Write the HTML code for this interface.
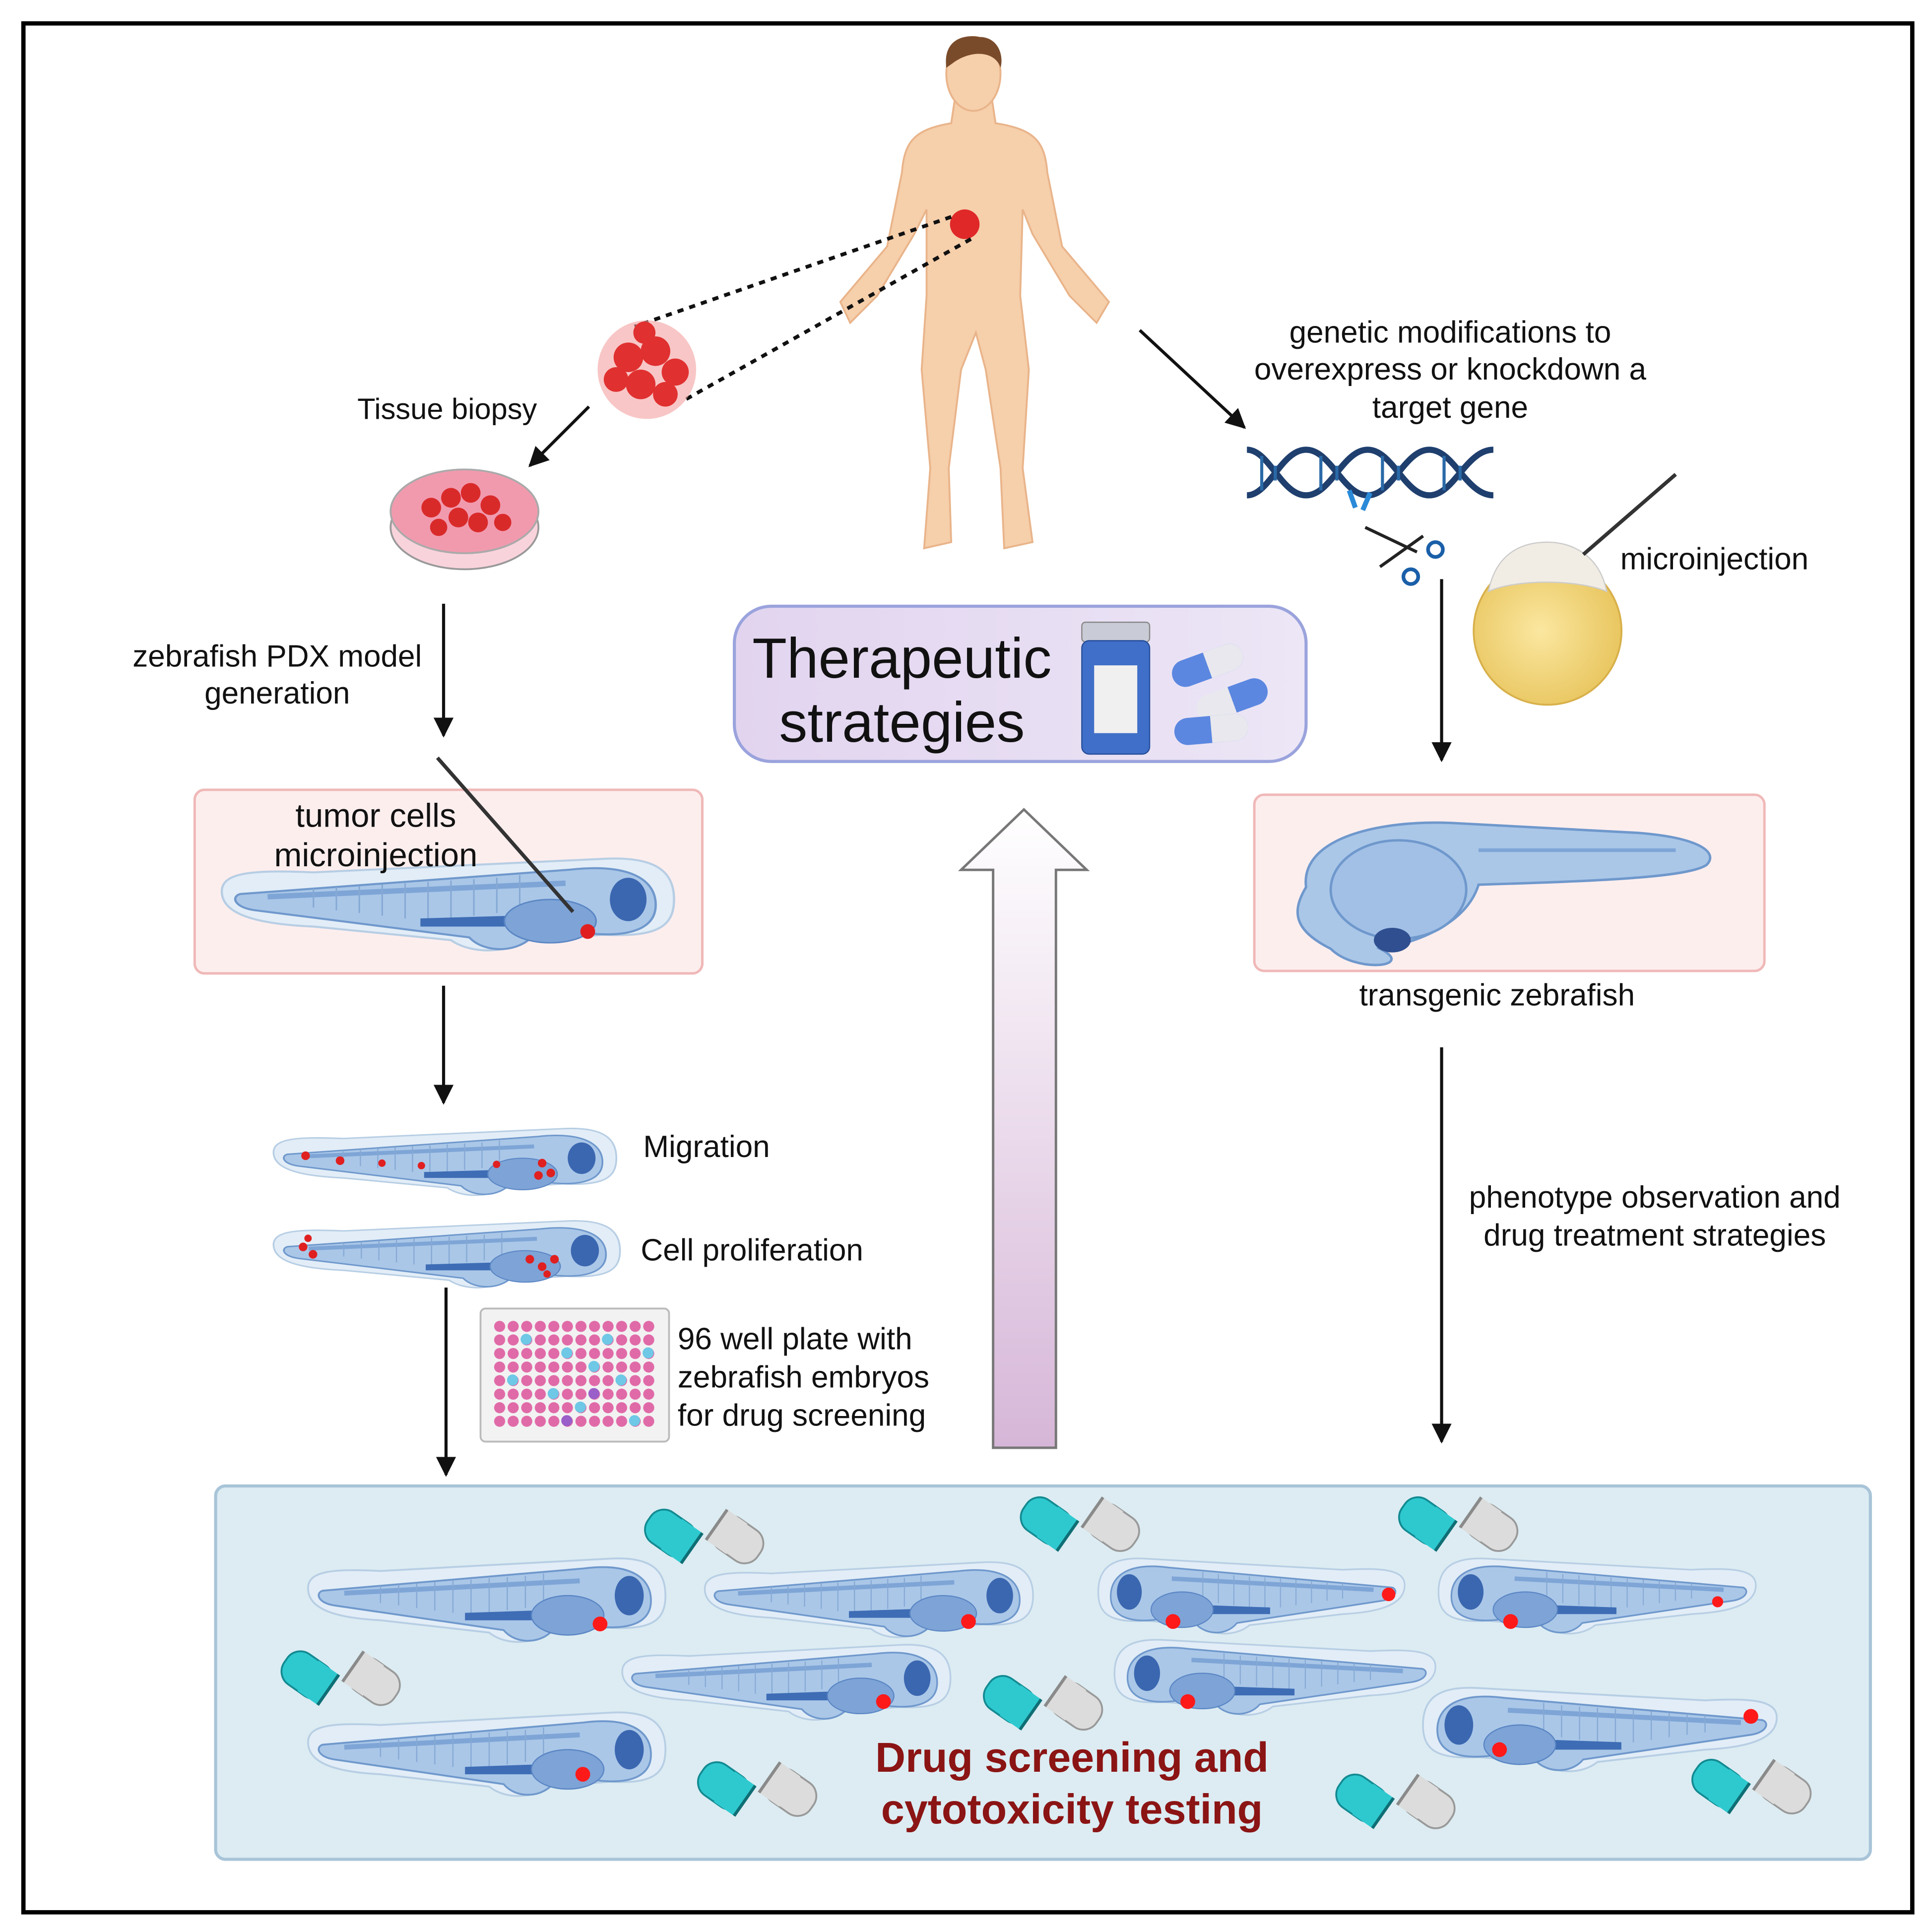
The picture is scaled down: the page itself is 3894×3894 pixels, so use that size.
<!DOCTYPE html>
<html><head><meta charset="utf-8"><style>
html,body{margin:0;padding:0;background:#fff}
svg{display:block}
text{font-family:"Liberation Sans","DejaVu Sans",sans-serif}
</style></head><body>
<svg width="3894" height="3894" viewBox="0 0 1568 1568" xmlns="http://www.w3.org/2000/svg">
<defs>
<marker id="ah" viewBox="0 0 10 10" refX="9" refY="5" markerWidth="6.5" markerHeight="6.5" orient="auto"><path d="M0,0 L10,5 L0,10Z" fill="#111"/></marker>
<linearGradient id="upg" x1="0" y1="0" x2="0" y2="1"><stop offset="0" stop-color="#ffffff"/><stop offset="1" stop-color="#d6b6d8"/></linearGradient>
<linearGradient id="thg" x1="0" y1="0" x2="1" y2="0"><stop offset="0" stop-color="#e2d4ef"/><stop offset="1" stop-color="#ece6f6"/></linearGradient>
<radialGradient id="egg" cx="0.45" cy="0.5" r="0.6"><stop offset="0" stop-color="#fbe7a0"/><stop offset="1" stop-color="#e7c35a"/></radialGradient>
<g id="fish">
<path d="M0,-6 C0,-20 20,-22 60,-20 L250,-30 C285,-32 296,-20 296,0 C296,20 285,28 250,26 L200,30 C180,42 160,38 150,30 L60,20 C20,18 0,10 0,-6Z" fill="#e2edf7" stroke="#b7cee4" stroke-width="1.5"/>
<path d="M12,-4 L228,-22 C268,-27 284,-14 284,4 C284,22 266,28 240,25 L205,25 C195,40 172,40 162,28 L22,8 C8,6 6,-2 12,-4Z" fill="#aac7e8" stroke="#6f98cc" stroke-width="1.5"/>
<path d="M30,-2 L225,-12" stroke="#7ea5d6" stroke-width="4"/>
<g stroke="#86a9d4" stroke-width="1">
<path d="M60,-8 L60,6 M75,-9 L75,8 M90,-10 L90,10 M105,-11 L105,12 M120,-12 L120,14 M135,-13 L135,16 M150,-14 L150,18 M165,-15 L165,12 M180,-16 L180,10 M195,-18 L195,8"/>
</g>
<path d="M130,14 L190,12 L190,20 L130,20Z" fill="#3e6db5"/>
<ellipse cx="215" cy="16" rx="30" ry="16" fill="#7ea3d6" stroke="#5a86c4"/>
<ellipse cx="266" cy="0" rx="12" ry="16" fill="#3b67b0"/>
</g>
<g id="cap">
<g transform="translate(-25,0) rotate(35)">
<rect x="-22" y="-15" width="42" height="30" rx="13" fill="#2ec9cf" stroke="#138a92" stroke-width="1.5"/>
<rect x="0" y="-15" width="20" height="30" fill="#2ec9cf"/>
<path d="M20,-15 L20,15" stroke="#0f6e75" stroke-width="2.5"/>
</g>
<g transform="translate(28,4) rotate(35)">
<rect x="-20" y="-15" width="42" height="30" rx="13" fill="#dcdcdc" stroke="#999" stroke-width="1.5"/>
<rect x="-20" y="-15" width="20" height="30" fill="#dcdcdc"/>
<path d="M-20,-15 L-20,15" stroke="#8a8a8a" stroke-width="2.5"/>
</g>
</g>
</defs>

<rect x="19" y="19" width="1533" height="1533" fill="#fff" stroke="#000" stroke-width="3.5"/>

<!-- human -->
<g fill="#f6cfab" stroke="#e9b48a" stroke-width="1.5">
<path d="M775,80 L805,80 L808,100 C840,105 848,115 850,140 L862,200 L900,245 L890,262 L868,240 L838,190 L830,170 L828,240 L835,300 L830,380 L838,440 L815,445 L812,380 L800,300 L792,270 L780,300 L770,380 L772,440 L750,445 L755,380 L748,300 L752,240 L752,170 L742,190 L712,240 L690,262 L682,245 L720,200 L732,140 C734,115 742,105 772,100Z"/>
<ellipse cx="790" cy="60" rx="22" ry="30"/>
</g>
<path d="M768,55 C765,30 785,28 795,30 C810,30 815,45 812,55 C808,42 790,40 775,50Z" fill="#7a4b2a"/>
<circle cx="783" cy="182" r="12" fill="#e02828"/>
<path d="M772,176 L515,265" stroke="#111" stroke-width="3" stroke-dasharray="5,5"/>
<path d="M788,194 L555,325" stroke="#111" stroke-width="3" stroke-dasharray="5,5"/>
<circle cx="525" cy="300" r="40" fill="#f3a0a0" opacity="0.6"/>
<g fill="#e03030"><circle cx="510" cy="290" r="12"/><circle cx="532" cy="285" r="12"/><circle cx="548" cy="302" r="11"/><circle cx="520" cy="312" r="12"/><circle cx="540" cy="320" r="10"/><circle cx="500" cy="308" r="10"/><circle cx="523" cy="270" r="9"/></g>

<text x="290" y="340" font-size="24" fill="#111">Tissue biopsy</text>
<path d="M478,330 L430,378" stroke="#111" stroke-width="2.5" marker-end="url(#ah)"/>

<ellipse cx="377" cy="428" rx="60" ry="34" fill="#f9d3dc" stroke="#999" stroke-width="1.5"/>
<ellipse cx="377" cy="415" rx="60" ry="34" fill="#f19aae" stroke="#aaa" stroke-width="1.5"/>
<g fill="#d92a2a"><circle cx="350" cy="412" r="8"/><circle cx="366" cy="404" r="8"/><circle cx="382" cy="400" r="8"/><circle cx="398" cy="410" r="8"/><circle cx="372" cy="420" r="8"/><circle cx="388" cy="424" r="8"/><circle cx="356" cy="428" r="7"/><circle cx="408" cy="424" r="7"/></g>

<path d="M360,490 L360,597" stroke="#111" stroke-width="2.5" marker-end="url(#ah)"/>
<text x="225" y="541" font-size="25" text-anchor="middle" fill="#111">zebrafish PDX model</text>
<text x="225" y="571" font-size="25" text-anchor="middle" fill="#111">generation</text>

<rect x="158" y="641" width="412" height="149" rx="8" fill="#fdeeee" stroke="#f0b8b8" stroke-width="2"/>
<use href="#fish" transform="translate(180,730) scale(1.24,1.1)"/>
<circle cx="477" cy="756" r="6" fill="#e02020"/>
<path d="M355,615 L465,740" stroke="#333" stroke-width="3"/>
<text x="305" y="671" font-size="27" text-anchor="middle" fill="#111">tumor cells</text>
<text x="305" y="703" font-size="27" text-anchor="middle" fill="#111">microinjection</text>

<path d="M360,800 L360,895" stroke="#111" stroke-width="2.5" marker-end="url(#ah)"/>
<use href="#fish" transform="translate(222,940) scale(0.94,0.8)"/>
<use href="#fish" transform="translate(222,1015) scale(0.95,0.8)"/>
<g fill="#e02020"><circle cx="248" cy="938" r="3.5"/><circle cx="276" cy="942" r="3.5"/><circle cx="310" cy="944" r="3"/><circle cx="342" cy="946" r="3"/><circle cx="403" cy="945" r="3"/><circle cx="440" cy="944" r="3.5"/><circle cx="447" cy="952" r="3.5"/><circle cx="437" cy="954" r="3.5"/>
<circle cx="246" cy="1012" r="3.5"/><circle cx="254" cy="1018" r="3.5"/><circle cx="250" cy="1005" r="3"/><circle cx="430" cy="1022" r="3.5"/><circle cx="440" cy="1028" r="3.5"/><circle cx="450" cy="1022" r="3.5"/><circle cx="444" cy="1034" r="3"/></g>
<text x="522" y="939" font-size="25" fill="#111">Migration</text>
<text x="520" y="1023" font-size="25" fill="#111">Cell proliferation</text>

<path d="M362,1045 L362,1197" stroke="#111" stroke-width="2.5" marker-end="url(#ah)"/>
<rect x="390" y="1062" width="153" height="108" rx="4" fill="#f2f2f2" stroke="#bbb" stroke-width="1.5"/>
<pattern id="wp" x="400" y="1071" width="11" height="11" patternUnits="userSpaceOnUse"><circle cx="5.5" cy="5.5" r="4.5" fill="#e06aa8"/></pattern>
<rect x="400" y="1071" width="132" height="88" fill="url(#wp)"/>
<g fill="#6ec8e6"><circle cx="427" cy="1087" r="4.5"/><circle cx="460" cy="1098" r="4.5"/><circle cx="482" cy="1109" r="4.5"/><circle cx="493" cy="1087" r="4.5"/><circle cx="416" cy="1120" r="4.5"/><circle cx="449" cy="1131" r="4.5"/><circle cx="504" cy="1120" r="4.5"/><circle cx="526" cy="1098" r="4.5"/><circle cx="471" cy="1142" r="4.5"/><circle cx="515" cy="1153" r="4.5"/></g>
<g fill="#9a5fc8"><circle cx="460" cy="1153" r="4.5"/><circle cx="482" cy="1131" r="4.5"/></g>
<text x="550" y="1095" font-size="25" fill="#111">96 well plate with</text>
<text x="550" y="1126" font-size="25" fill="#111">zebrafish embryos</text>
<text x="550" y="1157" font-size="25" fill="#111">for drug screening</text>

<!-- therapeutic -->
<rect x="596" y="492" width="464" height="126" rx="30" fill="url(#thg)" stroke="#9aa3dc" stroke-width="2.5"/>
<text x="732" y="550" font-size="46" text-anchor="middle" fill="#111">Therapeutic</text>
<text x="732" y="602" font-size="46" text-anchor="middle" fill="#111">strategies</text>
<rect x="878" y="505" width="55" height="16" rx="3" fill="#c9ccd6" stroke="#888"/>
<rect x="878" y="520" width="55" height="92" rx="6" fill="#3f6fc8" stroke="#274f9a"/>
<rect x="888" y="540" width="35" height="55" fill="#f0f0f0"/>
<g transform="translate(980,540) rotate(-20)"><rect x="-30" y="-11" width="60" height="22" rx="11" fill="#5b87e0"/><rect x="0" y="-11" width="30" height="22" rx="11" fill="#e8e8ee"/><rect x="0" y="-11" width="12" height="22" fill="#e8e8ee"/></g>
<g transform="translate(1000,568) rotate(-20)"><rect x="-30" y="-11" width="60" height="22" rx="11" fill="#e8e8ee"/><rect x="0" y="-11" width="30" height="22" rx="11" fill="#5b87e0"/><rect x="0" y="-11" width="12" height="22" fill="#5b87e0"/></g>
<g transform="translate(983,592) rotate(-5)"><rect x="-30" y="-11" width="60" height="22" rx="11" fill="#5b87e0"/><rect x="0" y="-11" width="30" height="22" rx="11" fill="#e8e8ee"/><rect x="0" y="-11" width="12" height="22" fill="#e8e8ee"/></g>

<path d="M806,1175 L806,706 L780,706 L831,657 L882,706 L857,706 L857,1175Z" fill="url(#upg)" stroke="#777" stroke-width="2"/>

<!-- right -->
<path d="M925,268 L1010,347" stroke="#111" stroke-width="2.5" marker-end="url(#ah)"/>
<text x="1177" y="278" font-size="25" text-anchor="middle" fill="#111">genetic modifications to</text>
<text x="1177" y="308" font-size="25" text-anchor="middle" fill="#111">overexpress or knockdown a</text>
<text x="1177" y="339" font-size="25" text-anchor="middle" fill="#111">target gene</text>
<g fill="none" stroke="#1f3f6e" stroke-width="5">
<path d="M1012,365 C1030,365 1040,402 1060,402 C1080,402 1090,365 1110,365 C1130,365 1140,402 1160,402 C1180,402 1190,365 1212,365"/>
<path d="M1012,402 C1030,402 1040,365 1060,365 C1080,365 1090,402 1110,402 C1130,402 1140,365 1160,365 C1180,365 1190,402 1212,402"/>
</g>
<g stroke="#2a6aa8" stroke-width="2.5"><path d="M1024,370 L1024,398 M1035,378 L1035,390 M1072,370 L1072,398 M1085,378 L1085,390 M1122,370 L1122,398 M1135,378 L1135,390 M1172,370 L1172,398 M1185,378 L1185,390"/></g>
<path d="M1095,398 L1100,412 M1112,400 L1106,414" stroke="#2a8ad8" stroke-width="4"/>
<path d="M1108,428 L1150,448 M1120,460 L1155,435" stroke="#222" stroke-width="2.5"/>
<circle cx="1145" cy="468" r="6" fill="none" stroke="#1a5fa8" stroke-width="3"/>
<circle cx="1165" cy="446" r="6" fill="none" stroke="#1a5fa8" stroke-width="3"/>

<circle cx="1256" cy="512" r="60" fill="url(#egg)" stroke="#d8b04a" stroke-width="1.5"/>
<path d="M1208,480 C1215,445 1240,440 1256,440 C1275,440 1298,450 1304,480 C1280,470 1230,470 1208,480Z" fill="#f2ede4" stroke="#ccc"/>
<path d="M1285,450 L1360,385" stroke="#333" stroke-width="3"/>
<text x="1315" y="462" font-size="25" fill="#111">microinjection</text>

<path d="M1170,470 L1170,617" stroke="#111" stroke-width="2.5" marker-end="url(#ah)"/>
<rect x="1018" y="645" width="414" height="143" rx="8" fill="#fdeeee" stroke="#f0b8b8" stroke-width="2"/>
<path d="M1060,720 C1055,680 1120,665 1180,668 L1330,676 C1380,680 1395,692 1385,702 C1370,712 1300,715 1200,718 C1190,750 1150,765 1120,770 C1150,785 1100,790 1080,770 C1050,755 1048,740 1060,720Z" fill="#aac7e8" stroke="#6f98cc" stroke-width="2"/>
<ellipse cx="1135" cy="722" rx="55" ry="40" fill="#a2c0e6" stroke="#6f98cc" stroke-width="2"/>
<path d="M1200,690 L1360,690" stroke="#7ea5d6" stroke-width="3"/>
<ellipse cx="1130" cy="763" rx="15" ry="10" fill="#2f4f90"/>
<text x="1215" y="816" font-size="25" text-anchor="middle" fill="#111">transgenic zebrafish</text>

<path d="M1170,850 L1170,1170" stroke="#111" stroke-width="2.5" marker-end="url(#ah)"/>
<text x="1343" y="980" font-size="25" text-anchor="middle" fill="#111">phenotype observation and</text>
<text x="1343" y="1011" font-size="25" text-anchor="middle" fill="#111">drug treatment strategies</text>

<!-- bottom -->
<rect x="175" y="1206" width="1343" height="303" rx="8" fill="#dcecf2" stroke="#a8c4d8" stroke-width="2.5"/>
<use href="#fish" transform="translate(250,1295) scale(0.98,1)"/>
<use href="#fish" transform="translate(572,1295) scale(0.9,0.9)"/>
<use href="#fish" transform="translate(1140,1292) scale(-0.84,0.9)"/>
<use href="#fish" transform="translate(1425,1292) scale(-0.87,0.9)"/>
<use href="#fish" transform="translate(505,1362) scale(0.9,0.9)"/>
<use href="#fish" transform="translate(1165,1358) scale(-0.88,0.9)"/>
<use href="#fish" transform="translate(250,1420) scale(0.98,1)"/>
<use href="#fish" transform="translate(1442,1400) scale(-0.97,1)"/>
<g fill="#ff1a1a"><circle cx="487" cy="1318" r="6"/><circle cx="786" cy="1316" r="6"/><circle cx="952" cy="1316" r="6"/><circle cx="1127" cy="1294" r="5.5"/><circle cx="1226" cy="1316" r="6"/><circle cx="1394" cy="1300" r="4.5"/><circle cx="717" cy="1381" r="6"/><circle cx="964" cy="1381" r="6"/><circle cx="473" cy="1440" r="6"/><circle cx="1217" cy="1420" r="6"/><circle cx="1421" cy="1393" r="6"/></g>
<use href="#cap" transform="translate(570,1245)"/>
<use href="#cap" transform="translate(875,1235)"/>
<use href="#cap" transform="translate(1182,1235)"/>
<use href="#cap" transform="translate(275,1360)"/>
<use href="#cap" transform="translate(845,1380)"/>
<use href="#cap" transform="translate(613,1450)"/>
<use href="#cap" transform="translate(1131,1460)"/>
<use href="#cap" transform="translate(1420,1448)"/>
<text x="870" y="1438" font-size="34" font-weight="bold" text-anchor="middle" fill="#8b1414">Drug screening and</text>
<text x="870" y="1480" font-size="34" font-weight="bold" text-anchor="middle" fill="#8b1414">cytotoxicity testing</text>
</svg>
</body></html>
